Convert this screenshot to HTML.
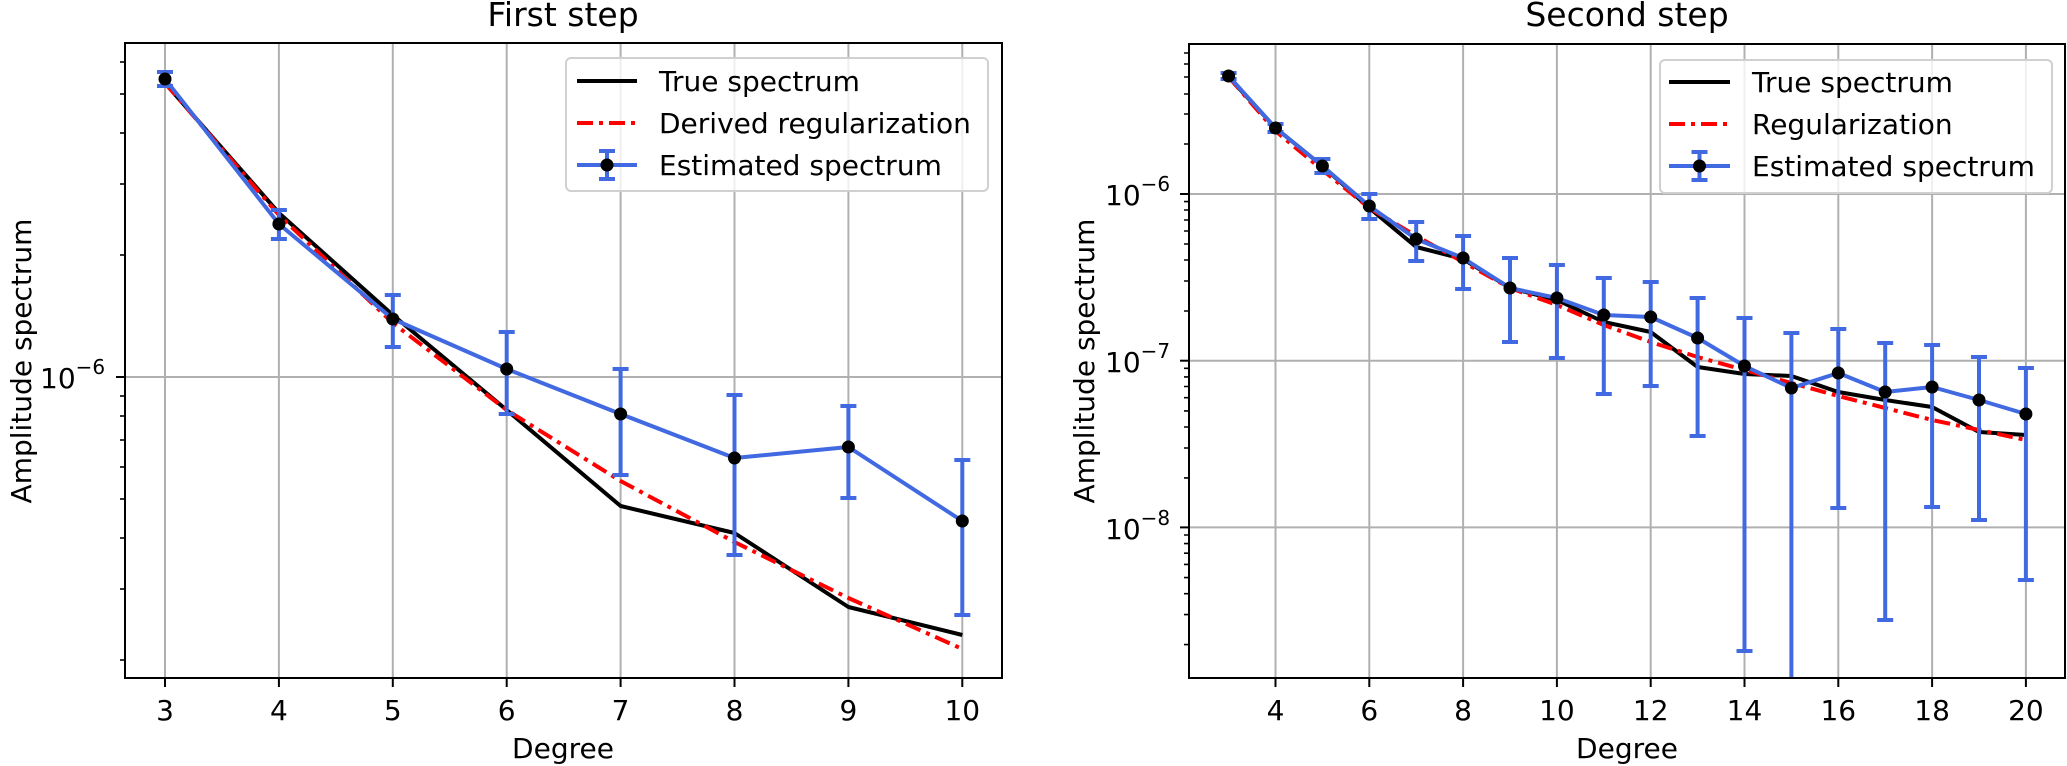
<!DOCTYPE html>
<html><head><meta charset="utf-8"><style>
html,body{margin:0;padding:0;background:#fff}
svg{display:block}
text{font-family:"DejaVu Sans","Liberation Sans",sans-serif;fill:#000}
</style></head><body>
<svg width="2067" height="766" viewBox="0 0 2067 766" xmlns="http://www.w3.org/2000/svg">
<rect width="2067" height="766" fill="#fff"/>
<!-- LEFT PLOT -->
<g stroke="#b0b0b0" stroke-width="2">
<line x1="165" y1="43" x2="165" y2="678"/><line x1="278.9" y1="43" x2="278.9" y2="678"/><line x1="392.8" y1="43" x2="392.8" y2="678"/><line x1="506.7" y1="43" x2="506.7" y2="678"/><line x1="620.6" y1="43" x2="620.6" y2="678"/><line x1="734.5" y1="43" x2="734.5" y2="678"/><line x1="848.4" y1="43" x2="848.4" y2="678"/><line x1="962.3" y1="43" x2="962.3" y2="678"/>
<line x1="125" y1="377" x2="1002" y2="377"/>
</g>
<g fill="none" stroke-width="4" stroke-linejoin="round">
<polyline stroke="#000" points="165,83 278.9,213 392.8,315 506.7,410 620.6,506 734.5,533 848.4,607 962.3,635"/>
<polyline stroke="#ff0000" stroke-dasharray="16,6,4,6" points="165,83 278.9,215 392.8,323 506.7,410 620.6,481 734.5,542 848.4,598 962.3,649"/>
<polyline stroke="#4169e1" points="165,79 278.9,224 392.8,319 506.7,369 620.6,414 734.5,458 848.4,447 962.3,521"/>
</g>
<g stroke="#4169e1" stroke-width="4">
<path d="M165,72V86M157,72H173M157,86H173"/>
<path d="M278.9,210V239M270.9,210H286.9M270.9,239H286.9"/>
<path d="M392.8,295V347M384.8,295H400.8M384.8,347H400.8"/>
<path d="M506.7,332V414M498.7,332H514.7M498.7,414H514.7"/>
<path d="M620.6,369V475M612.6,369H628.6M612.6,475H628.6"/>
<path d="M734.5,395V555M726.5,395H742.5M726.5,555H742.5"/>
<path d="M848.4,406V498M840.4,406H856.4M840.4,498H856.4"/>
<path d="M962.3,460V615M954.3,460H970.3M954.3,615H970.3"/>
</g>
<g fill="#000">
<circle cx="165" cy="79" r="6.5"/><circle cx="278.9" cy="224" r="6.5"/><circle cx="392.8" cy="319" r="6.5"/><circle cx="506.7" cy="369" r="6.5"/><circle cx="620.6" cy="414" r="6.5"/><circle cx="734.5" cy="458" r="6.5"/><circle cx="848.4" cy="447" r="6.5"/><circle cx="962.3" cy="521" r="6.5"/>
</g>
<rect x="125" y="43" width="877" height="635" fill="none" stroke="#000" stroke-width="2"/>
<g stroke="#000" stroke-width="2">
<line x1="165" y1="678" x2="165" y2="687"/><line x1="278.9" y1="678" x2="278.9" y2="687"/><line x1="392.8" y1="678" x2="392.8" y2="687"/><line x1="506.7" y1="678" x2="506.7" y2="687"/><line x1="620.6" y1="678" x2="620.6" y2="687"/><line x1="734.5" y1="678" x2="734.5" y2="687"/><line x1="848.4" y1="678" x2="848.4" y2="687"/><line x1="962.3" y1="678" x2="962.3" y2="687"/>
<line x1="116" y1="377" x2="125" y2="377"/>
</g>
<g stroke="#000" stroke-width="1.6">
<line x1="120" y1="660" x2="125" y2="660"/><line x1="120" y1="589" x2="125" y2="589"/><line x1="120" y1="538" x2="125" y2="538"/><line x1="120" y1="499" x2="125" y2="499"/><line x1="120" y1="467" x2="125" y2="467"/><line x1="120" y1="440" x2="125" y2="440"/><line x1="120" y1="416" x2="125" y2="416"/><line x1="120" y1="396" x2="125" y2="396"/><line x1="120" y1="255" x2="125" y2="255"/><line x1="120" y1="184" x2="125" y2="184"/><line x1="120" y1="133" x2="125" y2="133"/><line x1="120" y1="94" x2="125" y2="94"/><line x1="120" y1="62" x2="125" y2="62"/>
</g>
<g font-size="28" text-anchor="middle">
<text x="165" y="720">3</text><text x="278.9" y="720">4</text><text x="392.8" y="720">5</text><text x="506.7" y="720">6</text><text x="620.6" y="720">7</text><text x="734.5" y="720">8</text><text x="848.4" y="720">9</text><text x="962.3" y="720">10</text>
<text x="563" y="758">Degree</text>
<text transform="translate(31,361) rotate(-90)">Amplitude spectrum</text>
</g>
<text x="40" y="388" font-size="28">10<tspan font-size="20" dy="-14">−6</tspan></text>
<text x="563" y="26" font-size="33" text-anchor="middle">First step</text>
<rect x="566" y="58" width="422" height="133" rx="5" fill="#fff" fill-opacity="0.8" stroke="#d0d0d0" stroke-width="2"/>
<line x1="577" y1="81" x2="637" y2="81" stroke="#000" stroke-width="4"/>
<line x1="577" y1="123" x2="637" y2="123" stroke="#ff0000" stroke-width="4" stroke-dasharray="16,6,4,6"/>
<line x1="577" y1="165" x2="637" y2="165" stroke="#4169e1" stroke-width="4"/>
<path d="M607,151V179M599,151H615M599,179H615" stroke="#4169e1" stroke-width="4"/>
<circle cx="607" cy="165" r="6.5"/>
<g font-size="28"><text x="659" y="91">True spectrum</text><text x="659" y="133">Derived regularization</text><text x="659" y="175">Estimated spectrum</text></g>

<!-- RIGHT PLOT -->
<g stroke="#b0b0b0" stroke-width="2">
<line x1="1275.5" y1="44" x2="1275.5" y2="678"/><line x1="1369.3" y1="44" x2="1369.3" y2="678"/><line x1="1463.1" y1="44" x2="1463.1" y2="678"/><line x1="1556.9" y1="44" x2="1556.9" y2="678"/><line x1="1650.7" y1="44" x2="1650.7" y2="678"/><line x1="1744.5" y1="44" x2="1744.5" y2="678"/><line x1="1838.3" y1="44" x2="1838.3" y2="678"/><line x1="1932.1" y1="44" x2="1932.1" y2="678"/><line x1="2025.9" y1="44" x2="2025.9" y2="678"/>
<line x1="1189" y1="194" x2="2065" y2="194"/><line x1="1189" y1="360.7" x2="2065" y2="360.7"/><line x1="1189" y1="527.4" x2="2065" y2="527.4"/>
</g>
<g fill="none" stroke-width="4" stroke-linejoin="round">
<polyline stroke="#000" points="1228.6,77 1275.5,128 1322.4,166 1369.3,208 1416.2,247 1463.1,259 1510,288 1556.9,300 1603.8,322 1650.7,332 1697.6,367 1744.5,374 1791.4,376 1838.3,392 1885.2,400 1932.1,407 1979,432 2025.9,435"/>
<polyline stroke="#ff0000" stroke-dasharray="16,6,4,6" points="1228.6,77 1275.5,131 1322.4,170 1369.3,208 1416.2,236 1463.1,262 1510,288 1556.9,305 1603.8,325 1650.7,342 1697.6,357 1744.5,370 1791.4,383 1838.3,396 1885.2,408 1932.1,420 1979,430 2025.9,440"/>
<polyline stroke="#4169e1" points="1228.6,76 1275.5,128 1322.4,166 1369.3,206 1416.2,239 1463.1,258 1510,288 1556.9,298 1603.8,315 1650.7,317 1697.6,338 1744.5,366 1791.4,388 1838.3,373 1885.2,392 1932.1,387 1979,400 2025.9,414"/>
</g>
<g stroke="#4169e1" stroke-width="4">
<path d="M1228.6,73V79M1220.6,73H1236.6M1220.6,79H1236.6"/>
<path d="M1275.5,124V132M1267.5,124H1283.5M1267.5,132H1283.5"/>
<path d="M1322.4,159V173M1314.4,159H1330.4M1314.4,173H1330.4"/>
<path d="M1369.3,194V219M1361.3,194H1377.3M1361.3,219H1377.3"/>
<path d="M1416.2,222V261M1408.2,222H1424.2M1408.2,261H1424.2"/>
<path d="M1463.1,236V289M1455.1,236H1471.1M1455.1,289H1471.1"/>
<path d="M1510,258V342M1502,258H1518M1502,342H1518"/>
<path d="M1556.9,265V358M1548.9,265H1564.9M1548.9,358H1564.9"/>
<path d="M1603.8,278V394M1595.8,278H1611.8M1595.8,394H1611.8"/>
<path d="M1650.7,282V386M1642.7,282H1658.7M1642.7,386H1658.7"/>
<path d="M1697.6,298V436M1689.6,298H1705.6M1689.6,436H1705.6"/>
<path d="M1744.5,318V651M1736.5,318H1752.5M1736.5,651H1752.5"/>
<path d="M1791.4,333V678M1783.4,333H1799.4"/>
<path d="M1838.3,329V508M1830.3,329H1846.3M1830.3,508H1846.3"/>
<path d="M1885.2,343V620M1877.2,343H1893.2M1877.2,620H1893.2"/>
<path d="M1932.1,345V507M1924.1,345H1940.1M1924.1,507H1940.1"/>
<path d="M1979,357V520M1971,357H1987M1971,520H1987"/>
<path d="M2025.9,368V580M2017.9,368H2033.9M2017.9,580H2033.9"/>
</g>
<g fill="#000">
<circle cx="1228.6" cy="76" r="6.5"/><circle cx="1275.5" cy="128" r="6.5"/><circle cx="1322.4" cy="166" r="6.5"/><circle cx="1369.3" cy="206" r="6.5"/><circle cx="1416.2" cy="239" r="6.5"/><circle cx="1463.1" cy="258" r="6.5"/><circle cx="1510" cy="288" r="6.5"/><circle cx="1556.9" cy="298" r="6.5"/><circle cx="1603.8" cy="315" r="6.5"/><circle cx="1650.7" cy="317" r="6.5"/><circle cx="1697.6" cy="338" r="6.5"/><circle cx="1744.5" cy="366" r="6.5"/><circle cx="1791.4" cy="388" r="6.5"/><circle cx="1838.3" cy="373" r="6.5"/><circle cx="1885.2" cy="392" r="6.5"/><circle cx="1932.1" cy="387" r="6.5"/><circle cx="1979" cy="400" r="6.5"/><circle cx="2025.9" cy="414" r="6.5"/>
</g>
<rect x="1189" y="44" width="876" height="634" fill="none" stroke="#000" stroke-width="2"/>
<g stroke="#000" stroke-width="2">
<line x1="1275.5" y1="678" x2="1275.5" y2="687"/><line x1="1369.3" y1="678" x2="1369.3" y2="687"/><line x1="1463.1" y1="678" x2="1463.1" y2="687"/><line x1="1556.9" y1="678" x2="1556.9" y2="687"/><line x1="1650.7" y1="678" x2="1650.7" y2="687"/><line x1="1744.5" y1="678" x2="1744.5" y2="687"/><line x1="1838.3" y1="678" x2="1838.3" y2="687"/><line x1="1932.1" y1="678" x2="1932.1" y2="687"/><line x1="2025.9" y1="678" x2="2025.9" y2="687"/>
<line x1="1180" y1="194" x2="1189" y2="194"/><line x1="1180" y1="360.7" x2="1189" y2="360.7"/><line x1="1180" y1="527.4" x2="1189" y2="527.4"/>
</g>
<g stroke="#000" stroke-width="1.6">
<path d="M1184,144H1189M1184,114H1189M1184,94H1189M1184,77H1189M1184,64H1189M1184,53H1189
M1184,201.6H1189M1184,210H1189M1184,220H1189M1184,231H1189M1184,244H1189M1184,260H1189M1184,281H1189M1184,311H1189
M1184,368.3H1189M1184,376.9H1189M1184,386.5H1189M1184,397.7H1189M1184,410.9H1189M1184,427H1189M1184,448H1189M1184,477.9H1189
M1184,535H1189M1184,543.6H1189M1184,553.2H1189M1184,564.4H1189M1184,577.6H1189M1184,593.7H1189M1184,614.6H1189M1184,644.6H1189"/>
</g>
<g font-size="28" text-anchor="middle">
<text x="1275.5" y="720">4</text><text x="1369.3" y="720">6</text><text x="1463.1" y="720">8</text><text x="1556.9" y="720">10</text><text x="1650.7" y="720">12</text><text x="1744.5" y="720">14</text><text x="1838.3" y="720">16</text><text x="1932.1" y="720">18</text><text x="2025.9" y="720">20</text>
<text x="1627" y="758">Degree</text>
<text transform="translate(1094,361) rotate(-90)">Amplitude spectrum</text>
</g>
<g font-size="28">
<text x="1105" y="205">10<tspan font-size="20" dy="-14">−6</tspan></text>
<text x="1105" y="372">10<tspan font-size="20" dy="-14">−7</tspan></text>
<text x="1105" y="539">10<tspan font-size="20" dy="-14">−8</tspan></text>
</g>
<text x="1627" y="26" font-size="33" text-anchor="middle">Second step</text>
<rect x="1660" y="60" width="392" height="133" rx="5" fill="#fff" fill-opacity="0.8" stroke="#d0d0d0" stroke-width="2"/>
<line x1="1669" y1="82" x2="1730" y2="82" stroke="#000" stroke-width="4"/>
<line x1="1669" y1="124" x2="1730" y2="124" stroke="#ff0000" stroke-width="4" stroke-dasharray="16,6,4,6"/>
<line x1="1669" y1="166" x2="1730" y2="166" stroke="#4169e1" stroke-width="4"/>
<path d="M1699.5,152V180M1691.5,152H1707.5M1691.5,180H1707.5" stroke="#4169e1" stroke-width="4"/>
<circle cx="1699.5" cy="166" r="6.5"/>
<g font-size="28"><text x="1752" y="92">True spectrum</text><text x="1752" y="134">Regularization</text><text x="1752" y="176">Estimated spectrum</text></g>
</svg>
</body></html>
